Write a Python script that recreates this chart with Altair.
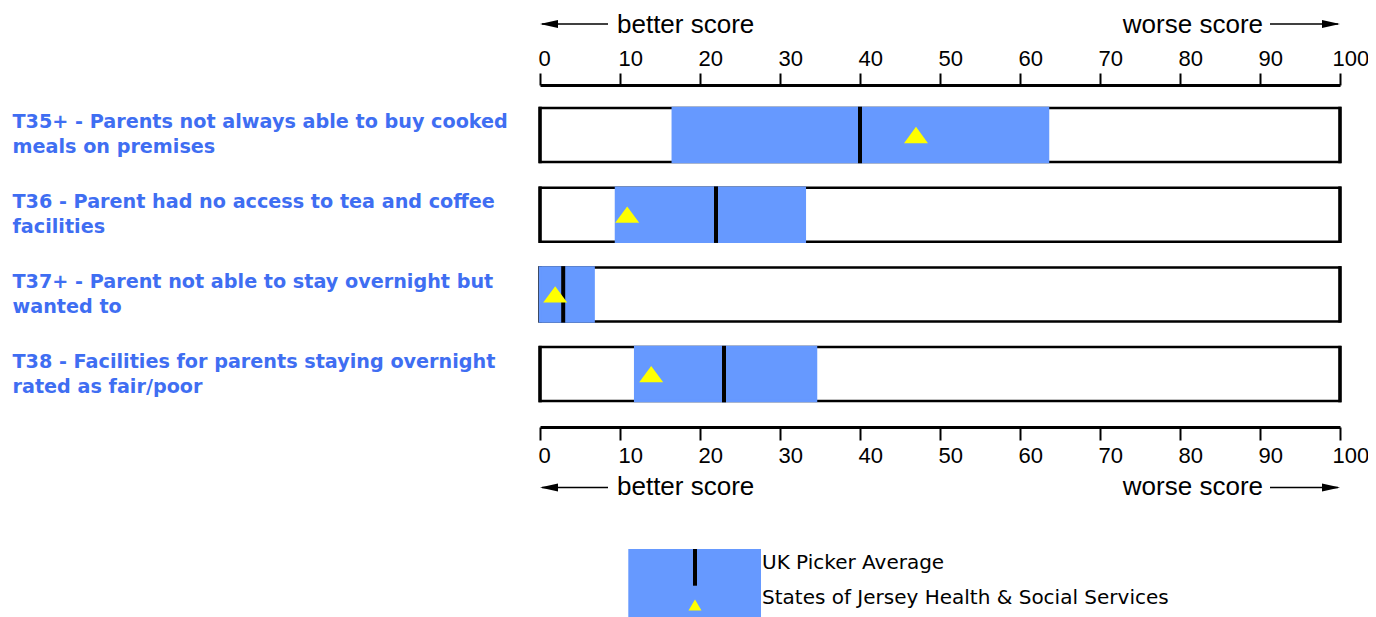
import altair as alt
import pandas as pd

# ---------------- data ----------------
label_line1 = [
    "T35+ - Parents not always able to buy cooked",
    "T36 - Parent had no access to tea and coffee",
    "T37+ - Parent not able to stay overnight but",
    "T38 - Facilities for parents staying overnight",
]
label_line2 = [
    "meals on premises",
    "facilities",
    "wanted to",
    "rated as fair/poor",
]
range_low = [16.6, 9.5, 0.0, 11.9]      # lower end of blue band
range_high = [63.5, 33.1, 6.7, 34.5]    # upper end of blue band
uk_average = [40.0, 22.0, 2.9, 23.0]    # UK Picker Average (black line)
jersey_score = [47.0, 10.9, 1.9, 13.9]  # States of Jersey (yellow triangle)
scale_min = 0
scale_max = 100
tick_values = [0, 10, 20, 30, 40, 50, 60, 70, 80, 90, 100]
direction_labels = ["better score", "worse score"]
legend_labels = ["UK Picker Average", "States of Jersey Health & Social Services"]

questions = [a + "|" + b for a, b in zip(label_line1, label_line2)]

df = pd.DataFrame({
    "question": questions,
    "low": range_low,
    "high": range_high,
    "avg": uk_average,
    "jersey": jersey_score,
    "lo_end": [scale_min] * len(questions),
    "hi_end": [scale_max] * len(questions),
})

# ---------------- styles ----------------
BLUE = "#6699FF"
LABEL_BLUE = "#3F6EF2"
YELLOW = "#FFFF00"
AX_FONT = "Liberation Sans"
LEG_FONT = "DejaVu Sans"
W, H = 800, 342
TRI = "M0,-0.68L1,0.68L-1,0.68Z"
TRI_SMALL = "M0,-0.85L1,0.85L-1,0.85Z"
HEAD_LEFT = "M0,0L2,-0.45L2,0.45Z"
HEAD_RIGHT = "M0,0L-2,-0.45L-2,0.45Z"

xscale = alt.Scale(domain=[scale_min, scale_max], nice=False, zero=False)
yscale = alt.Scale(type="band", paddingInner=0.3225, paddingOuter=0.3068, align=0.47)

y_axis = alt.Axis(
    orient="left", title=None, domain=False, ticks=False, tickSize=0, grid=False,
    labelAlign="left", labelBaseline="middle", labelPadding=528, labelLimit=600,
    labelOffset=-12.5,
    labelFont=LEG_FONT, labelFontWeight="bold", labelFontSize=19.2,
    labelColor=LABEL_BLUE, labelLineHeight=25,
    labelExpr="split(datum.label, '|')",
)
y_enc = alt.Y("question:N", sort=questions, scale=yscale, axis=y_axis)


def x_axis(orient, tick_size, pad):
    return alt.Axis(
        orient=orient, values=tick_values, title=None, grid=False,
        domainColor="black", domainWidth=3, tickColor="black", tickWidth=2,
        tickSize=tick_size, labelAlign="left", labelBaseline="alphabetic",
        labelPadding=pad,
        labelOffset={"condition": {"test": "datum.value >= 100", "value": -8}, "value": -2},
        labelFont=AX_FONT, labelFontSize=22,
        labelColor="black", labelFlush=False, labelOverlap=False,
    )


base = alt.Chart(df)

box = base.mark_bar(fill="white", stroke="black", strokeWidth=2.5, cornerRadius=0).encode(
    x=alt.X("lo_end:Q", scale=xscale, axis=x_axis("top", 12, 8)),
    x2="hi_end:Q",
    y=y_enc,
)
left_edge = base.mark_tick(color="black", thickness=3.5, size=56.5, opacity=1).encode(
    x=alt.X("lo_end:Q", scale=xscale, axis=None), y=y_enc)
right_edge = base.mark_tick(color="black", thickness=3.5, size=56.5, opacity=1).encode(
    x=alt.X("hi_end:Q", scale=xscale, axis=None), y=y_enc)

band = base.mark_bar(fill=BLUE, stroke=BLUE, strokeWidth=2.5, cornerRadius=0).encode(
    x=alt.X("low:Q", scale=xscale, axis=x_axis("bottom", 13, 22)),
    x2="high:Q",
    y=y_enc,
)
avg = base.mark_tick(color="black", thickness=4, size=56.5, opacity=1).encode(
    x=alt.X("avg:Q", scale=xscale, axis=None), y=y_enc)
tri = base.mark_point(shape=TRI, filled=True, color=YELLOW, size=576, opacity=1, strokeWidth=0).encode(
    x=alt.X("jersey:Q", scale=xscale, axis=None), y=y_enc)

one = alt.Chart(pd.DataFrame({"k": [0]}))


def hline(x1, x2, y):
    return one.mark_rule(color="black", strokeWidth=1.5).encode(
        x=alt.value(x1), x2=alt.value(x2), y=alt.value(y))


def head(path, x, y):
    return one.mark_point(shape=path, filled=True, color="black", size=324, opacity=1, strokeWidth=0).encode(
        x=alt.value(x), y=alt.value(y))


def label(text, x, y, align, font, size):
    return one.mark_text(text=text, align=align, baseline="alphabetic", font=font,
                         fontSize=size, color="black").encode(x=alt.value(x), y=alt.value(y))


annotations = []
for arrow_y, text_y in [(-61, -52), (402.5, 410)]:
    annotations += [
        hline(2, 68, arrow_y), head(HEAD_LEFT, 0, arrow_y),
        label(direction_labels[0], 77, text_y, "left", AX_FONT, 26),
        hline(730, 798, arrow_y), head(HEAD_RIGHT, 800, arrow_y),
        label(direction_labels[1], 723, text_y, "right", AX_FONT, 26),
    ]

legend = [
    one.mark_rect(color=BLUE).encode(
        x=alt.value(88.3), x2=alt.value(221), y=alt.value(464), y2=alt.value(545)),
    one.mark_rule(color="black", strokeWidth=4).encode(
        x=alt.value(155), y=alt.value(464), y2=alt.value(500.7)),
    one.mark_point(shape=TRI_SMALL, filled=True, color=YELLOW, size=169, opacity=1, strokeWidth=0).encode(
        x=alt.value(155), y=alt.value(520)),
    label(legend_labels[0], 222, 483.5, "left", LEG_FONT, 20.0),
    label(legend_labels[1], 222, 519.3, "left", LEG_FONT, 20.0),
]

chart = alt.layer(
    box, left_edge, right_edge, band, avg, tri, *annotations, *legend
).properties(
    width=W, height=H,
    autosize=alt.AutoSizeParams(type="none"),
    padding={"left": 532, "top": 77, "right": 28, "bottom": 190},
).resolve_axis(x="independent").configure_view(strokeWidth=0)

chart.save("out.html", embed_options={"renderer": "svg", "actions": False})
